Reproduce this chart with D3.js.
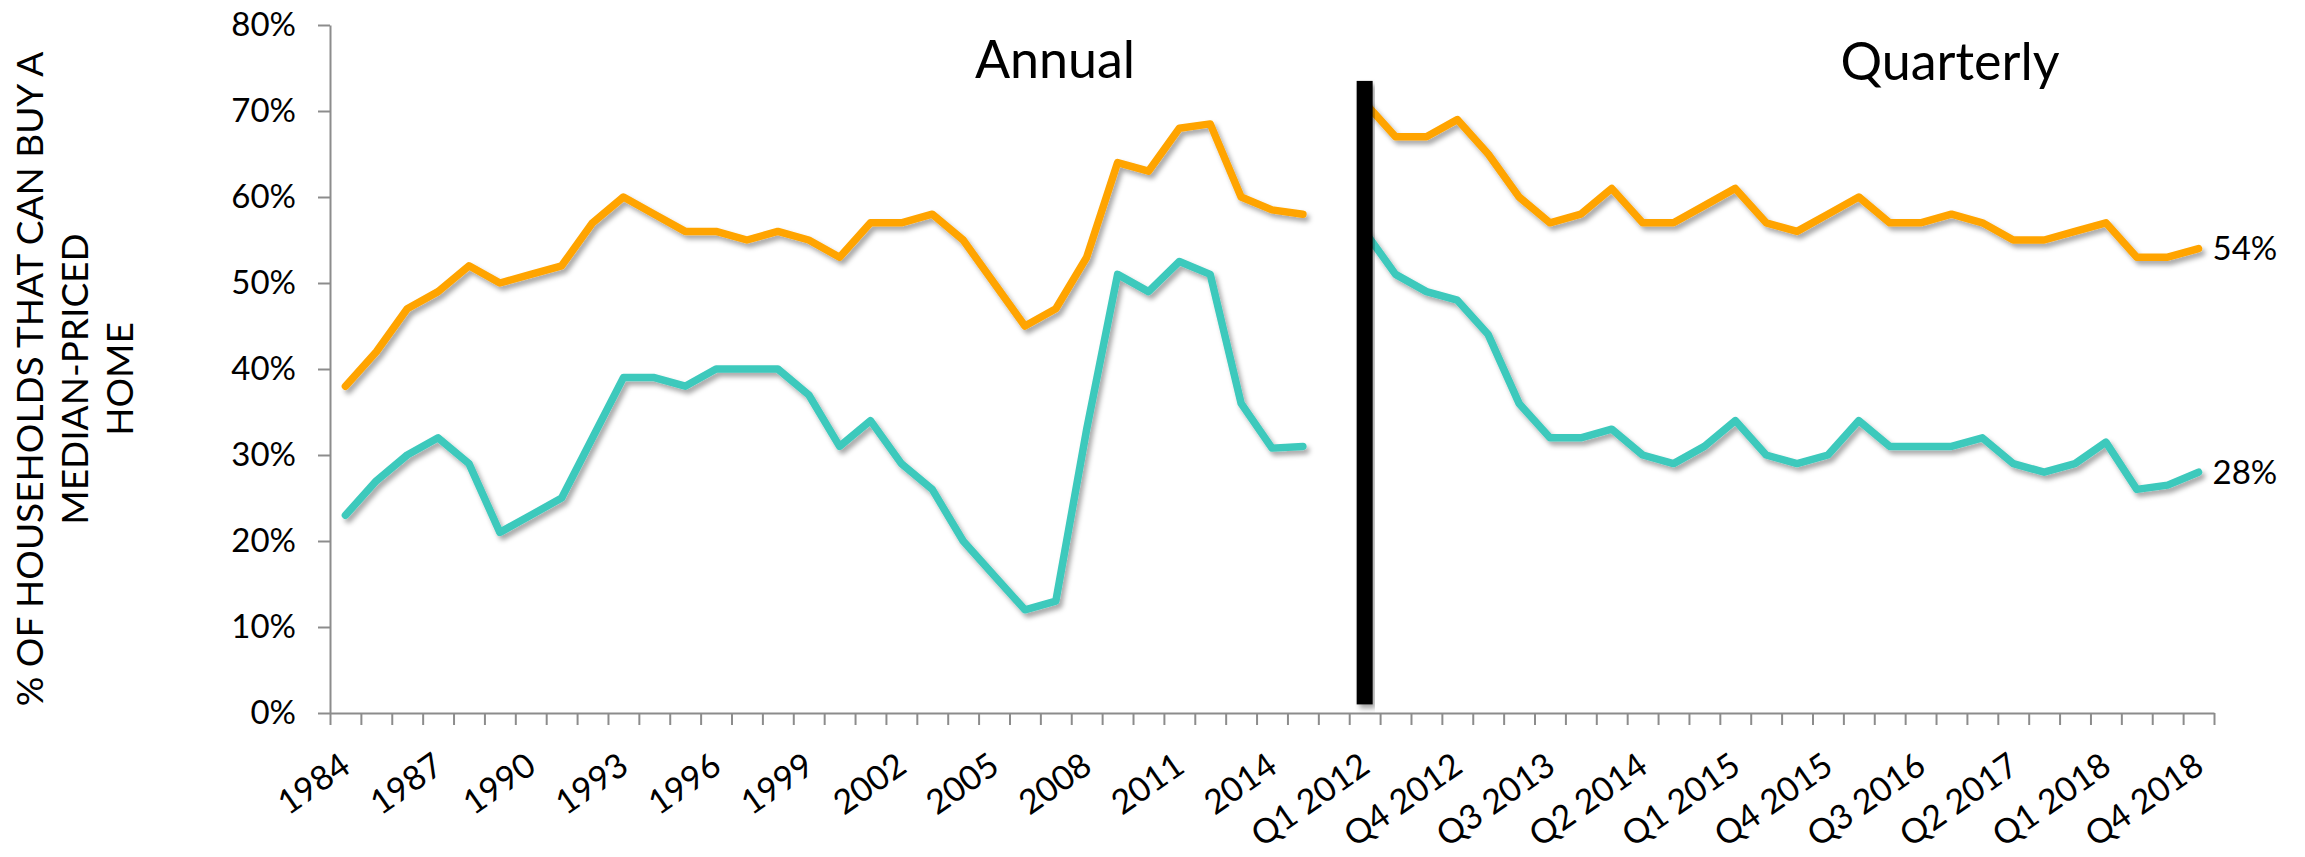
<!DOCTYPE html>
<html>
<head>
<meta charset="utf-8">
<script src="https://cdn.jsdelivr.net/npm/d3@7"></script>
<style>
  body { margin: 0; background: #fff; }
  text { font-family: Lato, "Open Sans", sans-serif; fill: #000; }
</style>
</head>
<body>
<div id="chart"></div>
<script>
// categories on the x axis: annual years, one empty slot, then quarters
const annualYears = ['1984','1985','1986','1987','1988','1989','1990','1991','1992','1993',
    '1994','1995','1996','1997','1998','1999','2000','2001','2002','2003','2004','2005',
    '2006','2007','2008','2009','2010','2011','2012','2013','2014','2015'];
const gapSlot = [' '];
const quarters = ['Q1 2012','Q2 2012','Q3 2012','Q4 2012','Q1 2013','Q2 2013','Q3 2013','Q4 2013',
    'Q1 2014','Q2 2014','Q3 2014','Q4 2014','Q1 2015','Q2 2015','Q3 2015','Q4 2015',
    'Q1 2016','Q2 2016','Q3 2016','Q4 2016','Q1 2017','Q2 2017','Q3 2017','Q4 2017',
    'Q1 2018','Q2 2018','Q3 2018','Q4 2018'];

// series values (share of households)
const annualOrange = [0.38,0.42,0.47,0.49,0.52,0.50,0.51,0.52,0.57,0.60,0.58,0.56,0.56,0.55,0.56,0.55,
    0.53,0.57,0.57,0.58,0.55,0.50,0.45,0.47,0.53,0.64,0.63,0.68,0.685,0.60,0.585,0.58];
const annualTeal = [0.23,0.27,0.30,0.32,0.29,0.21,0.23,0.25,0.32,0.39,0.39,0.38,0.40,0.40,0.40,0.37,
    0.31,0.34,0.29,0.26,0.20,0.16,0.12,0.13,0.33,0.51,0.49,0.525,0.51,0.36,0.308,0.31];
const quarterOrange = [0.71,0.67,0.67,0.69,0.65,0.60,0.57,0.58,0.61,0.57,0.57,0.59,0.61,0.57,0.56,0.58,
    0.60,0.57,0.57,0.58,0.57,0.55,0.55,0.56,0.57,0.53,0.53,0.54];
const quarterTeal = [0.56,0.51,0.49,0.48,0.44,0.36,0.32,0.32,0.33,0.30,0.29,0.31,0.34,0.30,0.29,0.30,
    0.34,0.31,0.31,0.31,0.32,0.29,0.28,0.29,0.315,0.26,0.265,0.28];

const yTicks = [0,0.1,0.2,0.3,0.4,0.5,0.6,0.7,0.8];
const labelEvery = 3;
const dividerSpan = [0.01, 0.735];

const WIDTH = 2305, HEIGHT = 857;
const margin = {top: 25, right: 91, bottom: 144, left: 330};
const ORANGE = '#FFA400', TEAL = '#3DC9BC', AXIS = '#8c8c8c';

const categories = annualYears.concat(gapSlot, quarters);

const svg = d3.select('#chart').append('svg')
    .attr('width', WIDTH)
    .attr('height', HEIGHT);

const defs = svg.append('defs');
defs.append('filter')
    .attr('id', 'shadow')
    .attr('x', '-10%').attr('y', '-10%')
    .attr('width', '120%').attr('height', '120%')
  .append('feDropShadow')
    .attr('dx', 3).attr('dy', 4)
    .attr('stdDeviation', 2.5)
    .attr('flood-color', '#000')
    .attr('flood-opacity', 0.35);

const x = d3.scalePoint()
    .domain(categories)
    .range([margin.left, WIDTH - margin.right])
    .padding(0.5);

const xEdge = d3.scaleLinear()
    .domain([0, categories.length])
    .range([margin.left, WIDTH - margin.right]);

const y = d3.scaleLinear()
    .domain([0, 0.8])
    .range([HEIGHT - margin.bottom, margin.top]);

// y axis
const yAxis = svg.append('g')
    .attr('transform', `translate(${margin.left},0)`)
    .call(d3.axisLeft(y)
        .tickValues(yTicks)
        .tickFormat(d3.format('.0%'))
        .tickSize(12)
        .tickSizeOuter(0)
        .tickPadding(22));
yAxis.select('.domain').attr('stroke', AXIS).attr('stroke-width', 2);
yAxis.selectAll('.tick line').attr('stroke', AXIS).attr('stroke-width', 2);
yAxis.selectAll('.tick text')
    .style('font-size', '33px')
    .style('font-family', 'Lato, sans-serif');

// x axis: tick marks between categories
const xTickAxis = svg.append('g')
    .attr('transform', `translate(0,${y(0)})`)
    .call(d3.axisBottom(xEdge)
        .tickValues(d3.range(categories.length + 1))
        .tickFormat('')
        .tickSize(12)
        .tickSizeOuter(0));
xTickAxis.select('.domain').attr('stroke', AXIS).attr('stroke-width', 2);
xTickAxis.selectAll('.tick line').attr('stroke', AXIS).attr('stroke-width', 2);

// x axis labels, every third category
const xLabels = svg.append('g')
    .attr('transform', `translate(0,${y(0)})`)
    .call(d3.axisBottom(x)
        .tickValues(categories.filter((d, i) => i % labelEvery === 0))
        .tickSize(0)
        .tickSizeOuter(0));
xLabels.select('.domain').remove();
xLabels.selectAll('.tick text')
    .style('font-size', '34px')
    .style('font-family', 'Lato, sans-serif')
    .attr('text-anchor', 'end')
    .attr('x', 0)
    .attr('y', 48)
    .attr('dy', '0.35em')
    .attr('transform', 'rotate(-35, 0, 48)');

// y axis title
const yTitle = svg.append('text')
    .attr('transform', `translate(0,${(margin.top + y(0)) / 2 + 10}) rotate(-90)`)
    .attr('text-anchor', 'middle')
    .style('font-size', '37px');
['% OF HOUSEHOLDS THAT CAN BUY A', 'MEDIAN-PRICED', 'HOME'].forEach((t, i) => {
    yTitle.append('tspan')
        .attr('x', 0)
        .attr('y', 43 + i * 45)
        .text(t);
});

// section titles
svg.append('text')
    .attr('x', 1055).attr('y', 78)
    .attr('text-anchor', 'middle')
    .style('font-size', '52px')
    .text('Annual');
svg.append('text')
    .attr('x', 1950).attr('y', 80)
    .attr('text-anchor', 'middle')
    .style('font-size', '52px')
    .text('Quarterly');

const line = d3.line()
    .x(d => x(d[0]))
    .y(d => y(d[1]));

const series = [
    {keys: annualYears, values: annualOrange, color: ORANGE},
    {keys: annualYears, values: annualTeal, color: TEAL},
    {keys: quarters, values: quarterTeal, color: TEAL},
    {keys: quarters, values: quarterOrange, color: ORANGE}
];

svg.append('g')
    .selectAll('path')
    .data(series)
    .enter()
    .append('path')
    .attr('d', s => line(s.keys.map((k, i) => [k, s.values[i]])))
    .attr('fill', 'none')
    .attr('stroke', s => s.color)
    .attr('stroke-width', 7.5)
    .attr('stroke-linejoin', 'round')
    .attr('stroke-linecap', 'round')
    .attr('filter', 'url(#shadow)');

// divider between annual and quarterly
svg.append('rect')
    .attr('x', x(quarters[0]) - 8)
    .attr('width', 16)
    .attr('y', y(dividerSpan[1]))
    .attr('height', y(dividerSpan[0]) - y(dividerSpan[1]))
    .attr('fill', '#000')
    .attr('filter', 'url(#shadow)');

// end labels
const last = quarters[quarters.length - 1];
[quarterOrange, quarterTeal].forEach(vals => {
    svg.append('text')
        .attr('x', x(last) + 14)
        .attr('y', y(vals[vals.length - 1]))
        .attr('dy', '0.35em')
        .style('font-size', '33px')
        .text(d3.format('.0%')(vals[vals.length - 1]));
});
</script>
</body>
</html>
